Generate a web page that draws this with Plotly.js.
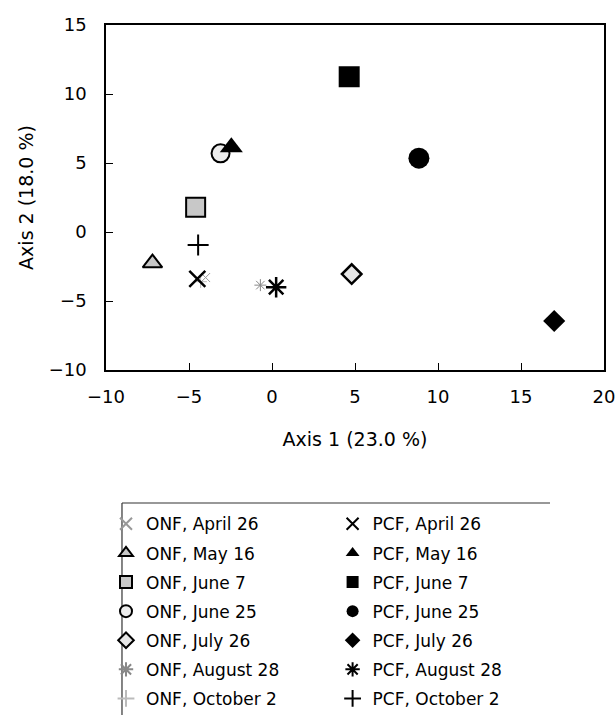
<!DOCTYPE html>
<html>
<head>
<meta charset="utf-8">
<script src="https://cdn.plot.ly/plotly-3.0.1.min.js"></script>
<style>html,body{margin:0;padding:0;background:#fff;}#chart{width:616px;height:715px;}</style>
</head>
<body>
<div id="chart"></div>
<script>
// Sampling dates
const dates = ["April 26", "May 16", "June 7", "June 25", "July 26", "August 28", "October 2"];

// ONF site scores (Axis 1, Axis 2)
const onfX = [-4.0, -7.2, -4.6, -3.1, 4.8, -0.7, -4.3];
const onfY = [-3.3, -2.25, 1.8, 5.7, -3.05, -3.85, -3.6];

// PCF site scores (Axis 1, Axis 2)
const pcfX = [-4.5, -2.45, 4.65, 8.85, 17.0, 0.25, -4.45];
const pcfY = [-3.4, 6.15, 11.25, 5.35, -6.45, -4.0, -0.95];

// Marker styles per date
const onfSymbols = ["x-thin-open", "triangle-up", "square", "circle", "diamond", "asterisk-open", "cross-thin-open"];
const onfSizes = [9, 17, 19, 18, 15, 10, 9];
const onfFill = ["#999", "#c8c8c8", "#c8c8c8", "#ececec", "#e6e6e6", "#888", "#bbb"];
const onfLineColor = ["#999", "#000", "#000", "#000", "#000", "#888", "#bbb"];
const onfLineWidth = [1, 2, 2, 2, 2.5, 1, 1];

const pcfSymbols = ["x-thin-open", "triangle-up", "square", "circle", "diamond", "asterisk-open", "cross-thin-open"];
const pcfSizes = [16, 20, 21, 21, 17, 17, 15];
const pcfLineWidth = [2.5, 0, 0, 0, 0, 2.5, 2];

const FONT = "DejaVu Sans, Liberation Sans, Arial, sans-serif";

const traces = [];
dates.forEach((d, i) => {
  traces.push({
    type: "scatter", mode: "markers",
    x: [onfX[i]], y: [onfY[i]],
    name: "ONF, " + d,
    legend: "legend",
    legendgroup: "onf" + i,
    marker: {
      symbol: onfSymbols[i], size: onfSizes[i], color: onfFill[i],
      line: {color: onfLineColor[i], width: onfLineWidth[i]}
    },
    hoverinfo: "x+y+name"
  });
});
dates.forEach((d, i) => {
  traces.push({
    type: "scatter", mode: "markers",
    x: [pcfX[i]], y: [pcfY[i]],
    name: "PCF, " + d,
    legend: "legend2",
    legendgroup: "pcf" + i,
    marker: {
      symbol: pcfSymbols[i], size: pcfSizes[i], color: "#000",
      line: {color: "#000", width: pcfLineWidth[i]}
    },
    hoverinfo: "x+y+name"
  });
});

const axisCommon = {
  showgrid: false, zeroline: false,
  showline: true, linecolor: "#000", linewidth: 1.5, mirror: true,
  ticks: "inside", ticklen: 7, tickcolor: "#000", tickwidth: 1,
  tickfont: {family: FONT, size: 18, color: "#000"},
  dtick: 5
};

const legendCommon = {
  orientation: "v",
  yanchor: "top", xanchor: "left",
  y: -0.395,
  bgcolor: "rgba(0,0,0,0)", borderwidth: 0,
  font: {family: FONT, size: 17, color: "#000"},
  tracegroupgap: 4,
  itemsizing: "constant",
  itemclick: false, itemdoubleclick: false
};

const layout = {
  width: 616, height: 715,
  margin: {l: 106, r: 12, t: 25, b: 345, autoexpand: false},
  paper_bgcolor: "#fff", plot_bgcolor: "#fff",
  showlegend: true,
  xaxis: Object.assign({}, axisCommon, {
    range: [-10, 20],
    ticklabelstandoff: 10,
    title: {text: "Axis 1 (23.0 %)", font: {family: FONT, size: 19, color: "#000"}, standoff: 26}
  }),
  yaxis: Object.assign({}, axisCommon, {
    range: [-10, 15],
    ticklabelstandoff: 14,
    title: {text: "Axis 2 (18.0 %)", font: {family: FONT, size: 19, color: "#000"}, standoff: 10}
  }),
  legend: Object.assign({}, legendCommon, {x: 0.0}),
  legend2: Object.assign({}, legendCommon, {x: 0.455}),
  shapes: [
    {type: "line", xref: "paper", yref: "paper", x0: 0.0321, x1: 0.8916, y0: -0.3855, y1: -0.3855, line: {color: "#333", width: 1.2}},
    {type: "line", xref: "paper", yref: "paper", x0: 0.0321, x1: 0.0321, y0: -0.3855, y1: -1.0, line: {color: "#333", width: 1.2}}
  ]
};

Plotly.newPlot("chart", traces, layout, {displayModeBar: false, staticPlot: false});
</script>
</body>
</html>
